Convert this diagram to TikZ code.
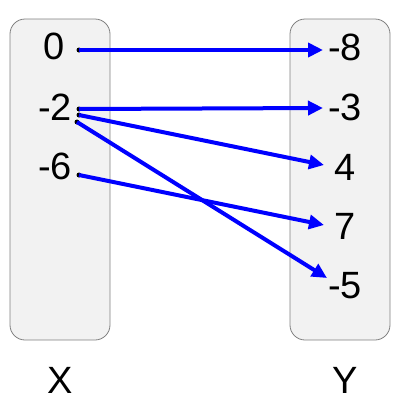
\documentclass[tikz,border=0pt]{standalone}
\usepackage{fontspec}
\setmainfont{Liberation Sans}
\usetikzlibrary{arrows.meta}
\begin{document}
\begin{tikzpicture}
      [x=1pt, y=-1pt,
        set/.style={draw=black!50, fill=black!5, rounded corners=15pt, line width=0.8pt},
        elem/.style={font=\fontsize{38}{40}\selectfont, inner sep=0pt},
        dot/.style={circle, inner sep=0pt, minimum size=5pt, fill=black},
        map/.style={draw=blue, line width=4pt, -{Triangle[length=15pt,width=14pt]}}]
    \useasboundingbox (0,0) rectangle (400,400);
    % the two sets
    \draw[set] (10,19) rectangle (110,340);
    \draw[set] (290,19) rectangle (390,340);
    % domain
    \node[elem] (x0) at (54,46) {0};
    \node[elem] (x2) at (55,107) {-2};
    \node[elem] (x6) at (55,166) {-6};
    \node[elem] (setX) at (60,380) {X};
    % codomain
    \node[elem] (y8) at (345,47) {-8};
    \node[elem] (y3) at (345,107) {-3};
    \node[elem] (y4) at (345,167) {4};
    \node[elem] (y7) at (345,226) {7};
    \node[elem] (y5) at (345,286) {-5};
    \node[elem] (setY) at (345,380) {Y};
    % start dots
    \node[dot] (d0) at (79,50) {};
    \node[dot] (d2a) at (79,109) {};
    \node[dot] (d2b) at (79,115) {};
    \node[dot] (d2c) at (77,122) {};
    \node[dot] (d6) at (79,175) {};
    % arrow ends
    \coordinate (e8) at (323,50);
    \coordinate (e3) at (323,108);
    \coordinate (e4) at (324,165);
    \coordinate (e7) at (324,225);
    \coordinate (e5) at (327,278);
    \draw[map] (d0.center) -- (e8);
    \draw[map] (d2a.center) -- (e3);
    \draw[map] (d2b.center) -- (e4);
    \draw[map] (d2c.center) -- (e5);
    \draw[map] (d6.center) -- (e7);
\end{tikzpicture}
\end{document}
